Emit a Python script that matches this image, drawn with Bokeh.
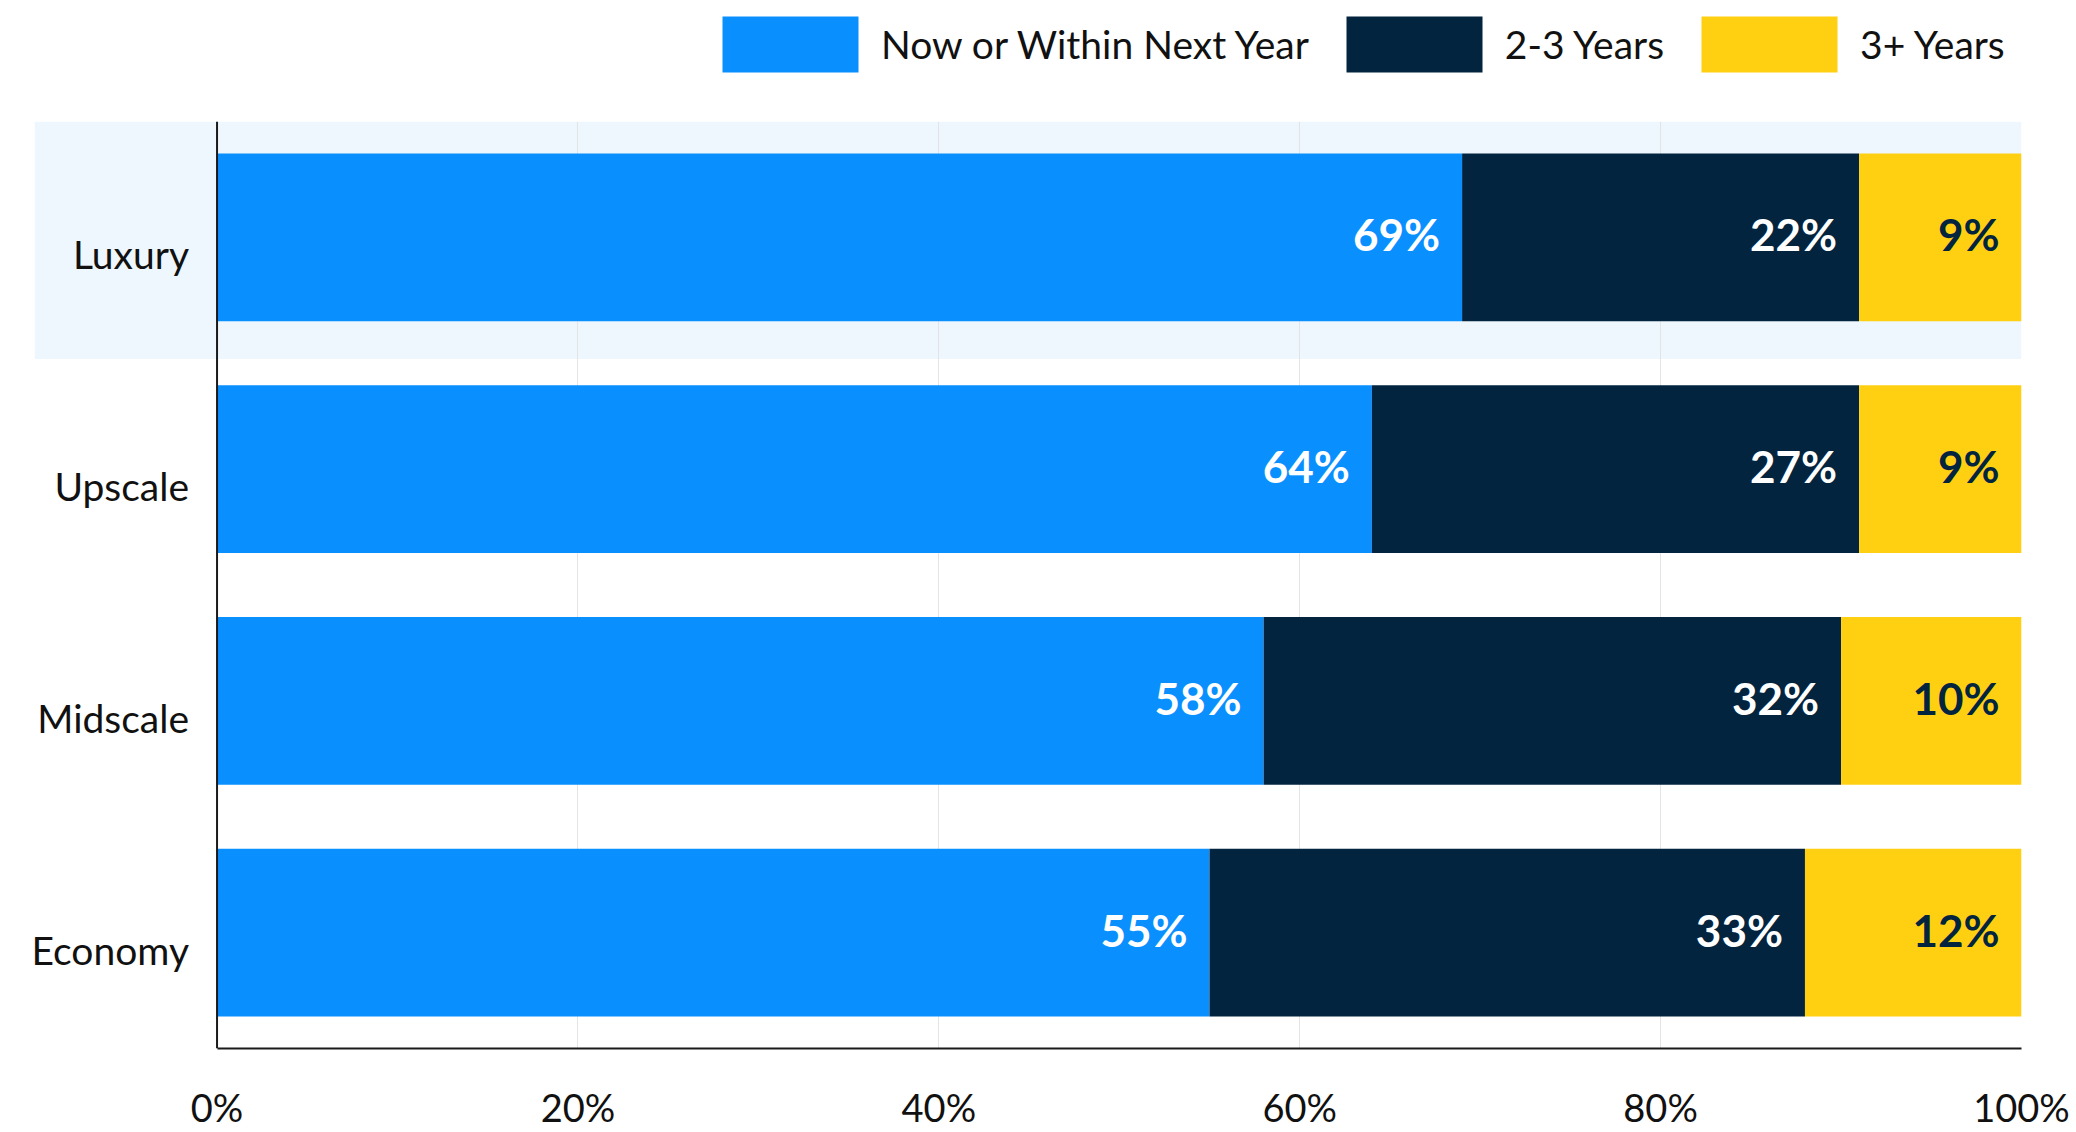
from bokeh.plotting import figure
from bokeh.layouts import column
from bokeh.models import FactorRange, Range1d, Legend, LegendItem, FixedTicker, PrintfTickFormatter, Span, ColumnDataSource
from bokeh.core.properties import value
from bokeh.embed import file_html
from bokeh.resources import INLINE

categories = ["Luxury", "Upscale", "Midscale", "Economy"]
series_names = ["Now or Within Next Year", "2-3 Years", "3+ Years"]
now_vals = [69, 64, 58, 55]
mid_vals = [22, 27, 32, 33]
late_vals = [9, 9, 10, 12]
x_ticks = [0, 20, 40, 60, 80, 100]
highlight = "Luxury"

colors = ["#0a8fff", "#03243f", "#ffd012"]
label_colors = ["#ffffff", "#ffffff", "#03243f"]
FONT = "Lato"

# ---- legend strip (its own small figure above the chart) ----
leg_fig = figure(width=2076, height=121, output_backend="svg", toolbar_location=None,
                 x_range=Range1d(0, 1), y_range=Range1d(0, 1),
                 min_border_left=0, min_border_right=0, min_border_top=0, min_border_bottom=0)
leg_fig.axis.visible = False
leg_fig.grid.visible = False
leg_fig.outline_line_color = None
# proxy renderers for the legend swatches, placed outside the visible range
leg_renderers = [leg_fig.hbar(y=[-5], left=[-5], right=[-4], height=1, fill_color=c, line_color=None)
                 for c in colors]
legend = Legend(items=[LegendItem(label=n, renderers=[r]) for n, r in zip(series_names, leg_renderers)],
                orientation="horizontal", location=(705, 42),
                glyph_width=170, glyph_height=70, label_standoff=6, spacing=20,
                padding=0, margin=0, border_line_color=None, background_fill_alpha=0,
                label_text_font=FONT, label_text_font_size="39px", label_text_color="#111111")
leg_fig.add_layout(legend, "center")

# ---- main chart ----
p = figure(width=2076, height=1011, output_backend="svg", toolbar_location=None,
           y_range=FactorRange(factors=list(reversed(categories))),
           x_range=Range1d(-12.0, 100),
           min_border_left=0, min_border_right=55, min_border_top=0, min_border_bottom=84)
p.outline_line_color = None

# highlight band behind the highlighted category (drawn beneath the grid)
p.hbar(y=[highlight], left=[-10.1], right=[100], height=1.05, fill_color="#eef7fd",
       line_color=None, level="image")

series = [now_vals, mid_vals, late_vals]
starts = [0] * len(categories)
for name, vals, col, lcol in zip(series_names, series, colors, label_colors):
    ends = [s + v for s, v in zip(starts, vals)]
    src = ColumnDataSource(dict(cat=categories, left=starts, right=ends,
                                txt=[f"{v}%" for v in vals]))
    p.hbar(y="cat", left="left", right="right", height=0.723, source=src,
           fill_color=col, line_color=None)
    p.text(x="right", y="cat", text="txt", source=src, x_offset=-22, y_offset=-3,
           text_align="right", text_baseline="middle", text_color=lcol,
           text_font=value(FONT), text_font_style="bold", text_font_size="44px")
    starts = ends

# category labels
p.text(x=[0] * len(categories), y=categories, text=categories, x_offset=-28, y_offset=17,
       text_align="right", text_baseline="middle", text_color="#111111",
       text_font=value(FONT), text_font_size="39px")

# vertical axis line
p.add_layout(Span(location=0, dimension="height", line_color="#1a1a1a", line_width=2))

p.yaxis.visible = False
p.ygrid.visible = False
p.xgrid.ticker = FixedTicker(ticks=x_ticks[1:])
p.xgrid.grid_line_color = "#e4e4e4"
p.xgrid.grid_line_width = 1

ax = p.xaxis[0]
ax.ticker = FixedTicker(ticks=x_ticks)
ax.bounds = (0, 100)
ax.formatter = PrintfTickFormatter(format="%d%%")
ax.axis_line_color = "#1a1a1a"
ax.axis_line_width = 2
ax.major_tick_line_color = None
ax.major_tick_out = 0
ax.major_tick_in = 0
ax.minor_tick_line_color = None
ax.minor_tick_out = 0
ax.major_label_text_font = FONT
ax.major_label_text_font_size = "38px"
ax.major_label_text_color = "#111111"
ax.major_label_standoff = 35

layout = column(leg_fig, p, spacing=0)
open("out.html", "w").write(file_html(layout, INLINE))
